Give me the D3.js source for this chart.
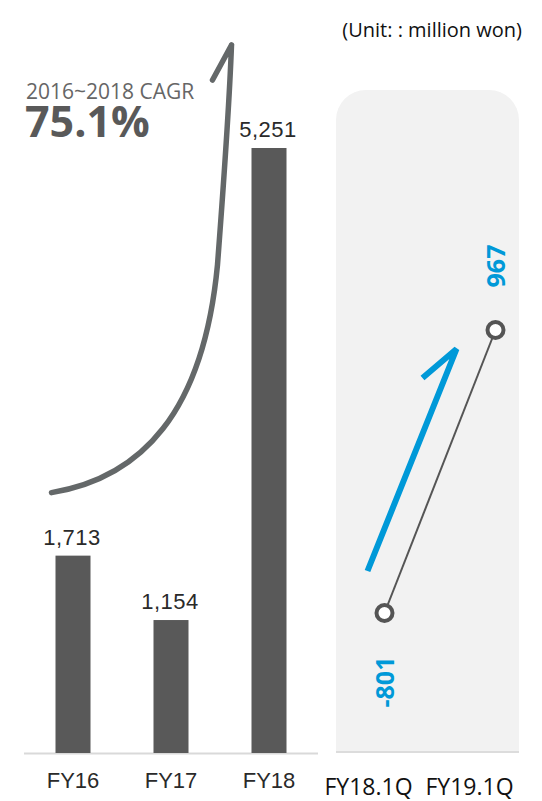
<!DOCTYPE html>
<html><head><meta charset="utf-8">
<script src="https://cdn.jsdelivr.net/npm/d3@7"></script>
<style>body{margin:0;background:#fff}svg{display:block}</style>
</head><body>
<script>
const yearCats = ["FY16","FY17","FY18"];
const yearValues = [1713,1154,5251];
const yearLabels = ["1,713","1,154","5,251"];
const qCats = ["FY18.1Q","FY19.1Q"];
const qValues = [-801,967];
const qLabels = ["-801","967"];
const unitText = "(Unit: : million won)";
const cagrTitle = "2016~2018 CAGR";
const cagrValue = "75.1%";

const W=542,H=801;
const svg=d3.select("body").append("svg").attr("width",W).attr("height",H);

// left bar chart
const x=d3.scalePoint().domain(yearCats).range([24,318]).padding(0.5);
const y=d3.scaleLinear().domain([0,5251]).range([753,148]);
const bw=35;

svg.append("line").attr("x1",24).attr("x2",318).attr("y1",753.5).attr("y2",753.5)
  .attr("stroke","#d9d9d9").attr("stroke-width",2);

svg.selectAll(".bar").data(yearValues).join("rect")
  .attr("x",(d,i)=>x(yearCats[i])-bw/2).attr("width",bw)
  .attr("y",d=>y(d)).attr("height",d=>y(0)-y(d)).attr("fill","#595959");

svg.selectAll(".vl").data(yearValues).join("text")
  .attr("x",(d,i)=>x(yearCats[i])-1).attr("y",d=>y(d)-11)
  .attr("text-anchor","middle").attr("font-family","Liberation Sans, Arial, sans-serif")
  .attr("font-size",22).attr("fill","#2a2a2a").attr("letter-spacing",0.5).text((d,i)=>yearLabels[i]);

svg.selectAll(".xl").data(yearCats).join("text")
  .attr("x",d=>x(d)).attr("y",788)
  .attr("text-anchor","middle").attr("font-family","Liberation Sans, Arial, sans-serif")
  .attr("font-size",22).attr("fill","#2a2a2a").text(d=>d);

// CAGR annotation curve
const cx0=x("FY16")-bw/2-4, cy0=y(yearValues[0])-63;
const tipX=x("FY18")-bw/2-20, tipY=45;
const curve=d3.path();
curve.moveTo(cx0,cy0);
curve.bezierCurveTo(cx0+90,cy0-15,cx0+152,cy0-80,cx0+166,cy0-228);
curve.bezierCurveTo(cx0+173,cy0-320,cx0+178,cy0-393,tipX,tipY);
curve.moveTo(tipX-19,tipY+35);
curve.lineTo(tipX,tipY);
svg.append("path").attr("d",curve.toString()).attr("fill","none")
  .attr("stroke","#646869").attr("stroke-width",5.5).attr("stroke-linecap","round").attr("stroke-linejoin","round");

svg.append("text").attr("x",26).attr("y",99).attr("font-family","Open Sans, sans-serif")
  .attr("font-size",21).attr("fill","#666").text(cagrTitle);
svg.append("text").attr("x",25).attr("y",137).attr("font-family","Open Sans, sans-serif")
  .attr("font-weight","bold").attr("font-size",43).attr("fill","#595959").text(cagrValue);

// unit
svg.append("text").attr("x",522).attr("y",37).attr("text-anchor","end")
  .attr("font-family","Open Sans, sans-serif").attr("font-size",20).attr("fill","#111").text(unitText);

// right panel
const px0=336,px1=519,py0=90,py1=752,r=30;
const pp=d3.path();
pp.moveTo(px0,py1);pp.lineTo(px0,py0+r);pp.arcTo(px0,py0,px0+r,py0,r);
pp.lineTo(px1-r,py0);pp.arcTo(px1,py0,px1,py0+r,r);pp.lineTo(px1,py1);pp.closePath();
svg.append("path").attr("d",pp.toString()).attr("fill","#f2f2f2");
svg.append("line").attr("x1",px0).attr("x2",px1).attr("y1",py1).attr("y2",py1)
  .attr("stroke","#dcdcdc").attr("stroke-width",2);

const xq=d3.scalePoint().domain(qCats).range([318,520]).padding(0.5);
const yq=d3.scaleLinear().domain([-801,967]).range([613,330]);
const ptOff=19;

// blue trend arrow
const ax0=xq(qCats[0])-1, ay0=yq(qValues[0])-42;
const ax1=xq(qCats[1])-13, ay1=yq(qValues[1])+19;
const ar=d3.path();
ar.moveTo(ax0,ay0);ar.lineTo(ax1,ay1);ar.lineTo(ax1-34,ay1+29);
svg.append("path").attr("d",ar.toString()).attr("fill","none")
  .attr("stroke","#0099d8").attr("stroke-width",6).attr("stroke-linejoin","miter");

const line=d3.line().x((d,i)=>xq(qCats[i])+ptOff+(i?7:-3)).y(d=>yq(d));
svg.append("path").datum(qValues).attr("d",line).attr("fill","none")
  .attr("stroke","#555").attr("stroke-width",2);
svg.selectAll(".pt").data(qValues).join("circle")
  .attr("cx",(d,i)=>xq(qCats[i])+ptOff+(i?7:-3)).attr("cy",d=>yq(d)).attr("r",8)
  .attr("fill","#fff").attr("stroke","#555").attr("stroke-width",4);

svg.selectAll(".ql").data(qValues).join("text")
  .attr("transform",(d,i)=>{
    const px=xq(qCats[i])+ptOff+(i?7:-3)+9;
    const py=yq(d)+(d<0?69:-64);
    return `translate(${px},${py}) rotate(-90)`;})
  .attr("text-anchor","middle").attr("font-family","Open Sans, sans-serif")
  .attr("font-weight","bold").attr("font-size",25).attr("fill","#0099d8")
  .text((d,i)=>qLabels[i]);

svg.selectAll(".qx").data(qCats).join("text")
  .attr("x",d=>xq(d)).attr("y",795).attr("text-anchor","middle")
  .attr("font-family","Open Sans, sans-serif").attr("font-size",23).attr("fill","#111").text(d=>d);
</script>
</body></html>
